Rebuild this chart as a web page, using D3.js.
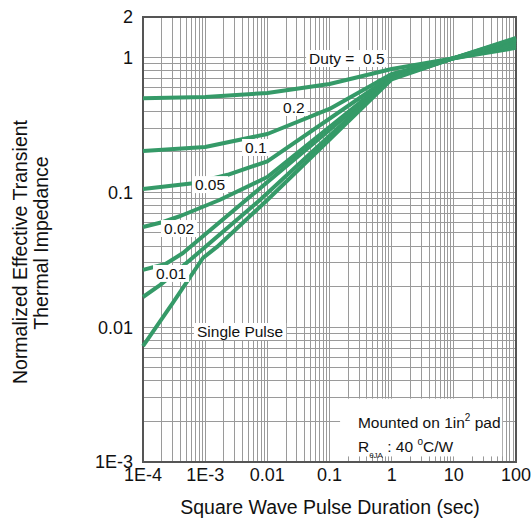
<!DOCTYPE html>
<html><head><meta charset="utf-8">
<script src="https://cdn.jsdelivr.net/npm/d3@7"></script>
<style>
html,body{margin:0;padding:0;background:#fff;}
text{font-family:"Liberation Sans",Arial,sans-serif;fill:#111;}
</style></head>
<body><svg id="c" width="531" height="524"></svg>
<script>
// ---- data ----
const xTicks = [1e-4, 1e-3, 0.01, 0.1, 1, 10, 100];
const xTickLabels = ["1E-4", "1E-3", "0.01", "0.1", "1", "10", "100"];
const yTicks = [1e-3, 0.01, 0.1, 1, 2];
const yTickLabels = ["1E-3", "0.01", "0.1", "1", "2"];

const duty05 = [[1e-4,0.50],[1e-3,0.51],[0.01,0.546],[0.1,0.637],[1,0.823],[10,0.99],[100,1.18]];
const duty02 = [[1e-4,0.203],[1e-3,0.217],[0.01,0.271],[0.1,0.416],[1,0.756],[10,0.99],[100,1.22]];
const duty01 = [[1e-4,0.106],[6.4e-4,0.117],[2.3e-3,0.135],[0.01,0.17],[1,0.73],[10,0.99],[100,1.26]];
const duty005 = [[1e-4,0.0554],[2.1e-4,0.0603],[4e-4,0.0668],[1.7e-3,0.0878],[0.01,0.13],[1,0.718],[10,0.99],[100,1.31]];
const duty002 = [[1e-4,0.0266],[2.3e-4,0.0294],[4.4e-4,0.0355],[1,0.71],[10,0.99],[100,1.35]];
const duty001 = [[1e-4,0.01675],[1.9e-4,0.0206],[5.7e-4,0.0315],[7.6e-3,0.0878],[1,0.70],[10,0.99],[100,1.38]];
const single = [[1e-4,0.00725],[3e-4,0.0151],[9.2e-4,0.0326],[1.55e-3,0.0394],[0.01,0.0878],[1,0.69],[10,0.99],[100,1.40]];
const seriesList = [duty05, duty02, duty01, duty005, duty002, duty001, single];

// curve labels: [text, x, y] in data units (left edge, baseline)
const curveLabels = [
  ["Duty =  0.5", 0.047, 0.896],
  ["0.2", 0.0179, 0.388],
  ["0.1", 4.38e-3, 0.196],
  ["0.05", 6.85e-4, 0.104],
  ["0.02", 2.18e-4, 0.0491],
  ["0.01", 1.62e-4, 0.0228],
  ["Single Pulse", 7.39e-4, 0.00846]
];

// ---- drawing ----
const L = 143, R = 516, T = 17, B = 462;
const svg = d3.select("#c");
const x = d3.scaleLog().domain([1e-4, 100]).range([L, R]);
const y = d3.scaleLog().domain([1e-3, 2]).range([B, T]);

// grid
const vGrid = [];
for (let d = -4; d <= 1; d++) for (let m = 1; m <= 9; m++) vGrid.push(m * Math.pow(10, d));
const hGrid = [];
for (let d = -3; d <= -1; d++) for (let m = 1; m <= 9; m++) hGrid.push(m * Math.pow(10, d));
hGrid.push(1);

const g = svg.append("g");
g.selectAll("line.v").data(vGrid).enter().append("line")
  .attr("x1", d => x(d)).attr("x2", d => x(d)).attr("y1", T).attr("y2", B)
  .attr("stroke", "#9a9a9a").attr("stroke-width", 1).attr("shape-rendering", "crispEdges");
g.selectAll("line.h").data(hGrid).enter().append("line")
  .attr("y1", d => y(d)).attr("y2", d => y(d)).attr("x1", L).attr("x2", R)
  .attr("stroke", "#9a9a9a").attr("stroke-width", 1).attr("shape-rendering", "crispEdges");

// note box (white, covers grid)
svg.append("rect")
  .attr("x", x(0.148)).attr("y", y(2.95e-3))
  .attr("width", x(60) - x(0.148)).attr("height", y(1.1e-3) - y(2.95e-3))
  .attr("fill", "#fff");

// frame
svg.append("rect").attr("x", L).attr("y", T).attr("width", R - L).attr("height", B - T)
  .attr("fill", "none").attr("stroke", "#555").attr("stroke-width", 1.2).attr("shape-rendering", "crispEdges");

// curves
const line = d3.line().x(d => x(d[0])).y(d => y(d[1]));
svg.selectAll("path.s").data(seriesList).enter().append("path")
  .attr("d", line).attr("fill", "none").attr("stroke", "#359a68")
  .attr("stroke-width", 4).attr("stroke-linejoin", "round").attr("stroke-linecap", "butt");

// curve labels
curveLabels.forEach(([t, lx, ly]) => {
  const gl = svg.append("g");
  const rect = gl.append("rect").attr("fill", "#fff");
  const tx = gl.append("text").attr("x", x(lx)).attr("y", y(ly))
    .attr("font-size", 15.5).style("white-space", "pre").text(t);
  const bb = tx.node().getBBox();
  rect.attr("x", bb.x - 3).attr("y", bb.y).attr("width", bb.width + 6).attr("height", bb.height);
});

// note text
const n1 = svg.append("text").attr("x", x(0.287)).attr("y", y(1.79e-3)).attr("font-size", 15.5);
n1.append("tspan").text("Mounted on 1in");
n1.append("tspan").attr("font-size", 10).attr("dy", -7).text("2");
n1.append("tspan").attr("dy", 7).text(" pad");
const n2 = svg.append("text").attr("x", x(0.287)).attr("y", y(1.19e-3)).attr("font-size", 15.5);
n2.append("tspan").text("R");
n2.append("tspan").attr("font-size", 8).attr("dy", 6).text("\u03B8JA");
n2.append("tspan").attr("dy", -6).text(" : 40 ");
n2.append("tspan").attr("font-size", 10).attr("dy", -7).text("o");
n2.append("tspan").attr("dy", 7).text("C/W");

// tick labels
svg.selectAll("text.xt").data(xTicks).enter().append("text")
  .attr("x", d => x(d)).attr("y", 481).attr("text-anchor", "middle").attr("font-size", 18)
  .text((d, i) => xTickLabels[i]);
svg.selectAll("text.yt").data(yTicks).enter().append("text")
  .attr("x", 133).attr("y", d => y(d)).attr("dy", "0.36em").attr("text-anchor", "end").attr("font-size", 18)
  .text((d, i) => yTickLabels[i]);

// axis titles
svg.append("text").attr("x", 330).attr("y", 514).attr("text-anchor", "middle")
  .attr("font-size", 19.5).text("Square Wave Pulse Duration (sec)");
const yt = svg.append("text").attr("transform", "rotate(-90)")
  .attr("text-anchor", "middle").attr("font-size", 19.5);
yt.append("tspan").attr("x", -252).attr("y", 27).text("Normalized Effective Transient");
yt.append("tspan").attr("x", -243).attr("y", 48).text("Thermal Impedance");
</script></body></html>
